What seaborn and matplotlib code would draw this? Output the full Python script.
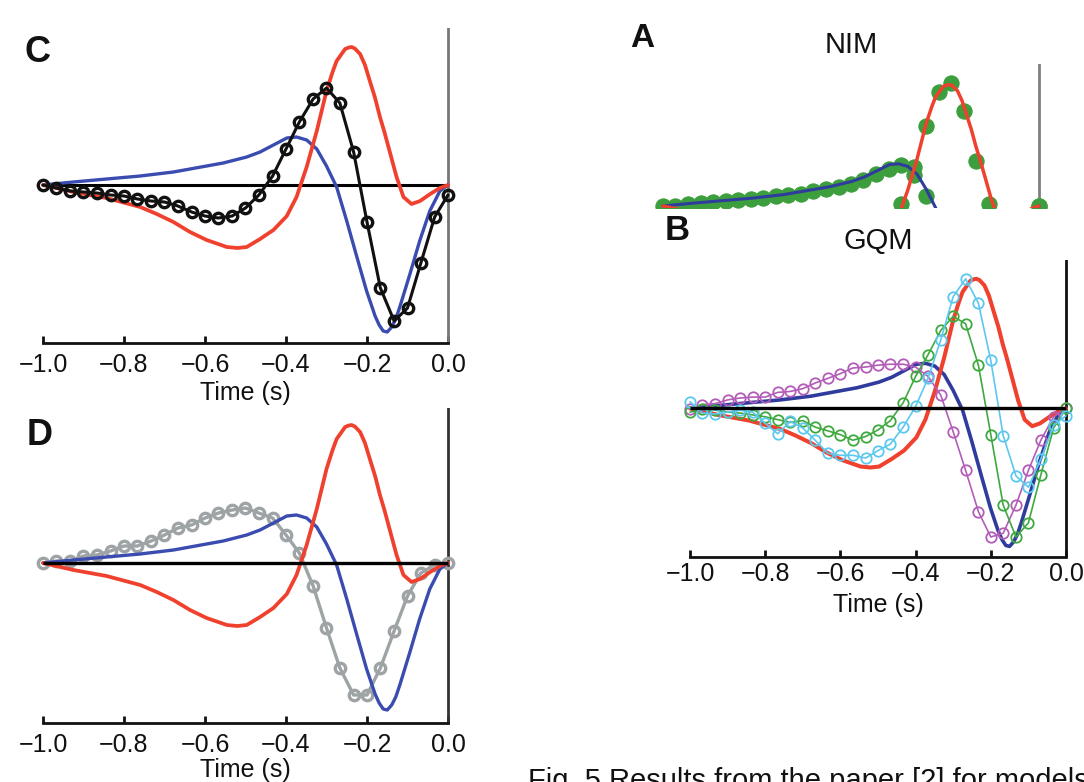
import numpy as np
import pandas as pd
import seaborn as sns
import matplotlib.pyplot as plt

sns.set_style('white')
plt.rcParams['font.family'] = ['Liberation Sans', 'DejaVu Sans']

# filtros (curvas suaves)
red_t = [-1.0, -0.925, -0.843, -0.76, -0.719, -0.678, -0.637, -0.596, -0.546, -0.52, -0.497,
         -0.464, -0.431, -0.398, -0.374, -0.349, -0.324, -0.30, -0.285, -0.275, -0.254, -0.245,
         -0.238, -0.23, -0.217, -0.205, -0.193, -0.18, -0.168, -0.157, -0.147, -0.127, -0.110,
         -0.090, -0.069, -0.044, -0.020, 0.0]
red_v = [0.0, -0.07, -0.13, -0.22, -0.29, -0.37, -0.47, -0.55, -0.62, -0.63, -0.62,
         -0.54, -0.45, -0.31, -0.12, 0.18, 0.54, 0.94, 1.13, 1.24, 1.36, 1.375,
         1.38, 1.365, 1.31, 1.20, 1.04, 0.87, 0.68, 0.53, 0.38, 0.08, -0.12,
         -0.19, -0.16, -0.09, -0.03, 0.0]
blue_t = [-1.0, -0.925, -0.843, -0.76, -0.678, -0.637, -0.555, -0.497, -0.464, -0.431, -0.398,
          -0.374, -0.349, -0.324, -0.30, -0.275, -0.25, -0.225, -0.201, -0.180, -0.17, -0.16,
          -0.15, -0.139, -0.129, -0.119, -0.094, -0.07, -0.045, -0.02, 0.0]
blue_v = [0.0, 0.03, 0.06, 0.09, 0.13, 0.16, 0.22, 0.28, 0.33, 0.40, 0.47,
          0.48, 0.45, 0.36, 0.19, -0.02, -0.36, -0.72, -1.06, -1.31, -1.40, -1.46,
          -1.47, -1.42, -1.34, -1.22, -0.89, -0.56, -0.26, -0.06, 0.0]

# rejilla temporal de los puntos (31 retardos)
lag = [-1.0, -0.967, -0.933, -0.9, -0.867, -0.833, -0.8, -0.767, -0.733, -0.7, -0.667,
       -0.633, -0.6, -0.567, -0.533, -0.5, -0.467, -0.433, -0.4, -0.367, -0.333,
       -0.3, -0.267, -0.233, -0.2, -0.167, -0.133, -0.1, -0.067, -0.033, 0.0]

# panel C (negro) y D (gris)
c_black = [0.0, -0.03, -0.06, -0.07, -0.08, -0.10, -0.11, -0.14, -0.16, -0.17, -0.21,
           -0.27, -0.31, -0.33, -0.31, -0.23, -0.10, 0.09, 0.36, 0.63, 0.86,
           0.97, 0.82, 0.33, -0.37, -1.03, -1.36, -1.23, -0.78, -0.32, -0.10]
d_gray = [0.0, 0.02, 0.02, 0.07, 0.08, 0.12, 0.17, 0.17, 0.22, 0.28, 0.35,
          0.38, 0.45, 0.50, 0.53, 0.55, 0.50, 0.45, 0.28, 0.10, -0.23,
          -0.65, -1.05, -1.32, -1.32, -1.05, -0.68, -0.33, -0.10, -0.02, 0.0]

# panel B (GQM)
b_purple = [-0.01, 0.04, 0.05, 0.09, 0.11, 0.12, 0.12, 0.17, 0.18, 0.21, 0.27,
            0.32, 0.37, 0.43, 0.44, 0.46, 0.47, 0.47, 0.44, 0.34, 0.14,
            -0.25, -0.66, -1.10, -1.37, -1.33, -1.03, -0.66, -0.34, -0.09, 0.0]
b_green = [-0.04, -0.01, -0.02, -0.04, -0.05, -0.07, -0.09, -0.12, -0.15, -0.13, -0.20,
           -0.24, -0.28, -0.34, -0.30, -0.23, -0.13, 0.06, 0.34, 0.57, 0.83,
           0.98, 0.90, 0.46, -0.28, -1.03, -1.37, -1.22, -0.71, -0.21, 0.0]
b_cyan = [0.07, -0.05, -0.06, -0.04, -0.02, -0.04, -0.16, -0.27, -0.14, -0.21, -0.34,
          -0.48, -0.50, -0.50, -0.53, -0.45, -0.38, -0.20, 0.02, 0.32, 0.73,
          1.19, 1.38, 1.12, 0.51, -0.29, -0.72, -0.84, -0.54, -0.18, -0.08]

# panel A (NIM), puntos verdes
a_dots_blue = [0.0, 0.0, 0.02, 0.03, 0.04, 0.06, 0.07, 0.08, 0.09, 0.11, 0.13,
               0.14, 0.17, 0.19, 0.22, 0.25, 0.29, 0.36, 0.42, 0.47, 0.44,
               0.11, -0.45, -0.90, -1.25, -1.45, -1.40, -1.05, -0.60, -0.25, 0.0]
a_dots_red = [-0.2, -0.2, -0.2, -0.2, -0.2, -0.21, -0.24, -0.29, -0.36, -0.44, -0.51,
              -0.56, -0.60, -0.63, -0.62, -0.58, -0.52, -0.43, -0.28, 0.02, 0.35,
              0.91, 1.29, 1.40, 1.08, 0.51, 0.02, -0.20, -0.18, -0.15, 0.0]

RED = '#f0402e'
BLUE = '#3b4cb0'
BLUE_DARK = '#2f3c9e'

fig = plt.figure(figsize=(10.84, 7.82), dpi=100)


def base_axes(rect, ylim, vcolor, with_xaxis=True, pad=7, labelpad=3):
    ax = fig.add_axes(rect)
    ax.set_xlim(-1.04, 0.04)
    ax.set_ylim(*ylim)
    for s in ['left', 'top', 'right']:
        ax.spines[s].set_visible(False)
    ax.set_yticks([])
    ax.axvline(0, color=vcolor, lw=2, zorder=1)
    if with_xaxis:
        ax.spines['bottom'].set_bounds(-1, 0)
        ax.spines['bottom'].set_linewidth(2)
        ax.spines['bottom'].set_color('#111111')
        ax.set_xticks([-1.0, -0.8, -0.6, -0.4, -0.2, 0.0])
        ax.tick_params(axis='x', direction='in', length=5, width=2, pad=pad,
                       labelsize=18, colors='#111111', bottom=True)
        ax.set_xlabel('Time (s)', fontsize=18, labelpad=labelpad, color='#111111')
    else:
        ax.spines['bottom'].set_visible(False)
        ax.set_xticks([])
    return ax


def curves(ax, blue_color, lw=2.4):
    sns.lineplot(x=blue_t, y=blue_v, ax=ax, color=blue_color, lw=lw, zorder=3)
    sns.lineplot(x=red_t, y=red_v, ax=ax, color=RED, lw=lw + 0.3, zorder=3)


def circles(ax, y, color, lw, ms, mew, z=4):
    sns.lineplot(x=lag, y=y, ax=ax, color=color, lw=lw, marker='o', ms=ms,
                 markerfacecolor='none', markeredgecolor=color, mew=mew, zorder=z)


# ---- C ----
axC = base_axes([0.02472, 0.56138, 0.40351, 0.40281], (-1.58, 1.57), '#777777')
curves(axC, BLUE)
circles(axC, c_black, '#111111', 2.2, 7.5, 2.4)
axC.hlines(0, -1, 0, color='black', lw=2.2, zorder=2)

# ---- D ----
axD = base_axes([0.02472, 0.07545, 0.40351, 0.40281], (-1.60, 1.55), '#333333', labelpad=1)
circles(axD, d_gray, '#9ea3a6', 2.4, 7.5, 2.4, z=2)
curves(axD, BLUE)
axD.hlines(0, -1, 0, color='black', lw=2.4, zorder=5)

# ---- B ----
axB = base_axes([0.62266, 0.28811, 0.37461, 0.37941], (-1.58, 1.58), '#111111', pad=4, labelpad=5)
circles(axB, b_purple, '#b35db8', 1.2, 7.5, 1.3)
circles(axB, b_green, '#3fa93f', 1.2, 7.5, 1.3)
circles(axB, b_cyan, '#5cc8f0', 1.2, 7.5, 1.3)
curves(axB, BLUE_DARK, lw=2.6)
axB.hlines(0, -1, 0, color='black', lw=2.4, zorder=6)
axB.set_title('GQM', fontsize=21, pad=8, color='#111111')

# ---- A ----
axA = base_axes([0.59775, 0.73402, 0.37461, 0.18414], (-0.023, 1.614), '#808080', with_xaxis=False)
for y in (a_dots_blue, a_dots_red):
    sns.lineplot(x=lag, y=y, ax=axA, lw=0, marker='o', ms=11, color='#3c9e3c',
                 markeredgecolor='#3c9e3c', zorder=2)
curves(axA, BLUE_DARK, lw=2.2)
axA.set_title('NIM', fontsize=21, pad=8, color='#111111')

# letras de panel
for letter, x, y, fs in [('C', 25, 62, 26), ('D', 27, 445, 26), ('A', 630, 47, 24), ('B', 665, 240, 25)]:
    fig.text(x / 1084, 1 - y / 782, letter, fontsize=fs, fontweight='bold', ha='left',
             va='baseline', color='#111111')

fig.text(528 / 1084, 1 - 767 / 782, 'Fig. 5 Results from the paper [2] for models',
         fontsize=21, ha='left', va='top', color='#111111')

fig.savefig('out.png', dpi=100)
